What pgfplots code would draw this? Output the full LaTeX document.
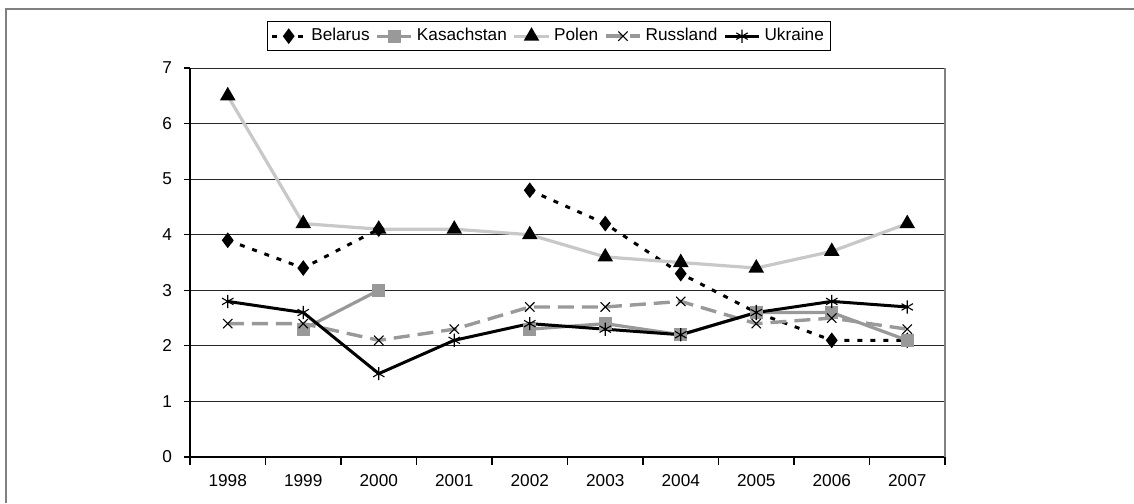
\documentclass[border=0pt]{standalone}
\usepackage{pgfplots}
\pgfplotsset{compat=1.18}
\usepackage{fontspec}
\setmainfont{Liberation Sans}
\usetikzlibrary{plotmarks}
\definecolor{kgray}{HTML}{999999}
\definecolor{pgray}{HTML}{C8C8C8}
\definecolor{framegray}{HTML}{808080}
\begin{document}
\begin{tikzpicture}
\path[use as bounding box] (0,0) rectangle (567pt,251.5pt);
\draw[framegray, line width=1pt] (3pt,0) -- (3pt,247pt) -- (567pt,247pt);
\begin{axis}[
  at={(95pt,23pt)}, anchor=south west,
  scale only axis, width=377.5pt, height=194.5pt,
  xmin=-0.5, xmax=9.5, ymin=0, ymax=7,
  ytick={0,...,7},
  xtick={0,...,9},
  xticklabels={1998,1999,2000,2001,2002,2003,2004,2005,2006,2007},
  minor xtick={-0.5,0.5,...,9.5},
  major x tick style={draw=none},
  minor tick length=4pt,
  major tick length=3pt,
  tick align=outside,
  xtick pos=bottom, ytick pos=left,
  axis x line*=bottom, axis y line*=left,
  axis line style={black, line width=0.8pt},
  ymajorgrids, grid style={black!85, line width=0.5pt},
  tick style={black, line width=0.6pt},
  ticklabel style={font=\fontsize{8.6}{10}\selectfont},
  /pgf/number format/assume math mode=true,
  xticklabel style={yshift=-2pt},
  yticklabel style={xshift=-2.5pt},
  unbounded coords=jump,
  legend columns=5,
  legend style={at={(0.4755,1.121)}, anchor=north, draw=black, line width=0.5pt,
    font=\fontsize{8.6}{10}\selectfont, inner sep=1.5pt,
    /tikz/every even column/.append style={column sep=1pt}},
  legend cell align=left,
  clip=false,
]
\addplot[black, line width=1.5pt, dash pattern=on 2.5pt off 4pt, mark=diamond*, mark size=2.7pt, mark options={solid, fill=black}]
  coordinates {(0,3.9) (1,3.4) (2,4.1) (3,nan) (4,4.8) (5,4.2) (6,3.3) (7,2.6) (8,2.1) (9,2.1)};
\addlegendentry{Belarus}
\addplot[kgray, line width=1.6pt, mark=square*, mark size=2.5pt, mark options={solid, fill=kgray, draw=kgray}]
  coordinates {(0,nan) (1,2.3) (2,3.0) (3,nan) (4,2.3) (5,2.4) (6,2.2) (7,2.6) (8,2.6) (9,2.1)};
\addlegendentry{Kasachstan}
\addplot[pgray, line width=1.6pt, mark=triangle*, mark size=2.9pt, mark options={solid, fill=black, draw=black}]
  coordinates {(0,6.5) (1,4.2) (2,4.1) (3,4.1) (4,4.0) (5,3.6) (6,3.5) (7,3.4) (8,3.7) (9,4.2)};
\addlegendentry{Polen}
\addplot[kgray, line width=1.7pt, dash pattern=on 8pt off 4pt, mark=x, mark size=3.3pt, mark options={solid, draw=black, line width=0.55pt}]
  coordinates {(0,2.4) (1,2.4) (2,2.1) (3,2.3) (4,2.7) (5,2.7) (6,2.8) (7,2.4) (8,2.5) (9,2.3)};
\addlegendentry{Russland}
\addplot[black, line width=1.5pt, mark=asterisk, mark size=3.3pt, mark options={solid, draw=black, line width=0.55pt}]
  coordinates {(0,2.8) (1,2.6) (2,1.5) (3,2.1) (4,2.4) (5,2.3) (6,2.2) (7,2.6) (8,2.8) (9,2.7)};
\addlegendentry{Ukraine}
\draw[framegray, line width=0.8pt] (rel axis cs:1,0) -- (rel axis cs:1,1);
\end{axis}
\end{tikzpicture}
\end{document}
